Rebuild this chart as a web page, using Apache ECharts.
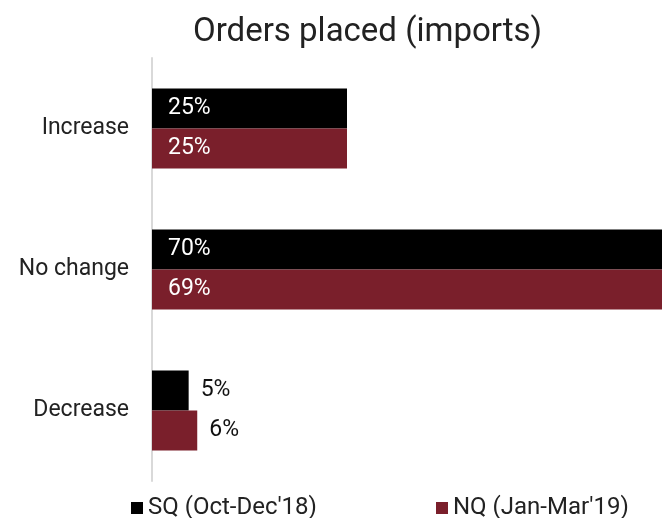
<!DOCTYPE html>
<html>
<head>
<meta charset="utf-8">
<script src="https://cdn.jsdelivr.net/npm/echarts@6/dist/echarts.min.js"></script>
<style>
  html, body { margin: 0; padding: 0; background: #fff; }
  #chart { width: 662px; height: 518px; }
</style>
</head>
<body>
<div id="chart"></div>
<script>
// datos del grafico
var categorias = ['Increase', 'No change', 'Decrease'];
var serie_sq = [25, 70, 4.7];
var serie_nq = [25, 69, 5.8];
var nombres = ['SQ (Oct-Dec\'18)', 'NQ (Jan-Mar\'19)'];

var color_negro = '#000000';
var color_rojo = '#7a1f2b';
var fuente = 'Roboto';

// etiquetas: dentro de la barra, salvo las barras chicas
function armar_datos(valores) {
    return valores.map(function(v) {
        if (v < 10) {
            return {
                value: v,
                label: { position: 'right', color: '#111', distance: 12 }
            };
        }
        return { value: v };
    });
}

function etiqueta_serie() {
    return {
        show: true,
        position: 'insideLeft',
        distance: 16,
        color: '#fff',
        fontFamily: fuente,
        fontSize: 23,
        padding: [3, 0, 0, 0],
        formatter: function(p) { return Math.round(p.value) + '%'; }
    };
}

var chart = echarts.init(document.getElementById('chart'));

var leyenda_base = {
    top: 496,
    padding: 0,
    itemWidth: 12,
    itemHeight: 12,
    itemGap: 5,
    icon: 'rect',
    textStyle: { fontFamily: fuente, fontSize: 24, color: '#222' }
};

var option = {
    animation: false,
    title: {
        text: 'Orders placed (imports)',
        left: 193,
        top: 16,
        padding: 0,
        textStyle: { fontFamily: fuente, fontWeight: 'normal', fontSize: 33, color: '#222' }
    },
    legend: [
        Object.assign({}, leyenda_base, { data: [nombres[0]], left: 131 }),
        Object.assign({}, leyenda_base, { data: [nombres[1]], left: 436 })
    ],
    // la barra de 70% se sale del lienzo, como en el original
    grid: {
        outerBoundsMode: 'none',
        left: 152,
        width: 546,
        top: 58,
        bottom: 37
    },
    xAxis: {
        type: 'value',
        min: 0,
        max: 70,
        show: false
    },
    yAxis: {
        type: 'category',
        inverse: true,
        data: categorias,
        axisLine: { show: true, lineStyle: { color: '#d9d9d9', width: 2 } },
        axisTick: { show: false },
        axisLabel: { fontFamily: fuente, fontSize: 23, color: '#222', margin: 23, padding: [4, 0, 0, 0] }
    },
    series: [
        {
            name: nombres[0],
            type: 'bar',
            barWidth: 40,
            barGap: '0%',
            itemStyle: { color: color_negro },
            label: etiqueta_serie(),
            data: armar_datos(serie_sq)
        },
        {
            name: nombres[1],
            type: 'bar',
            barWidth: 40,
            barGap: '0%',
            itemStyle: { color: color_rojo },
            label: etiqueta_serie(),
            data: armar_datos(serie_nq)
        }
    ]
};

chart.setOption(option);
</script>
</body>
</html>
